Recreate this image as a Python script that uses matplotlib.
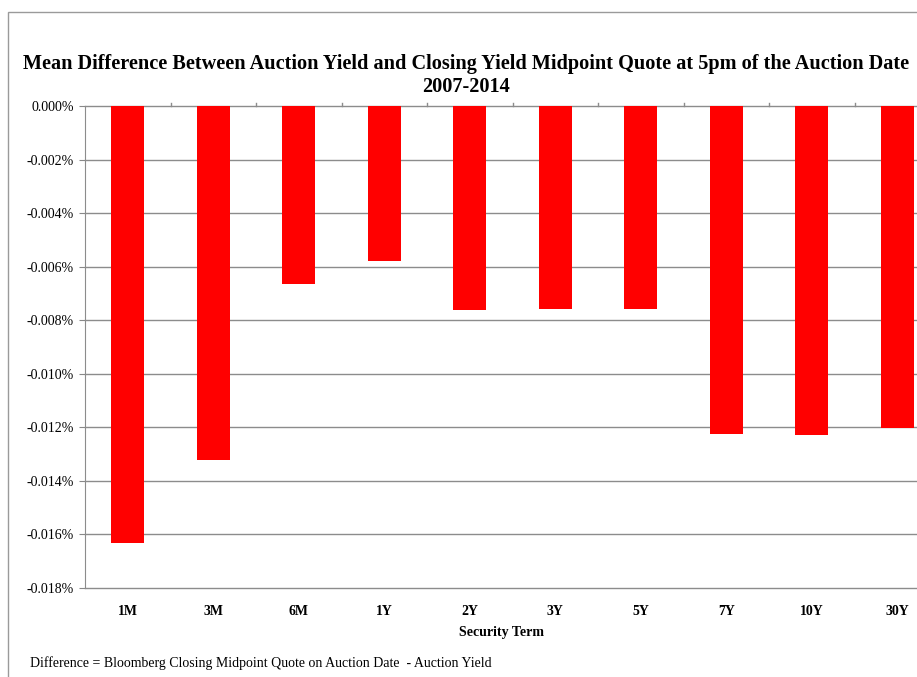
import matplotlib.pyplot as plt
from matplotlib.patches import Rectangle
from matplotlib.ticker import FuncFormatter
import numpy as np

terms = ["1M", "3M", "6M", "1Y", "2Y", "3Y", "5Y", "7Y", "10Y", "30Y"]
mean_diff = [-0.01633, -0.01322, -0.00665, -0.00578, -0.00762,
             -0.00758, -0.00758, -0.01225, -0.01230, -0.01202]

plt.rcParams['font.family'] = ['Liberation Serif', 'DejaVu Serif']

fig = plt.figure(figsize=(9.17, 6.77), dpi=100)
ax = fig.add_axes([0.0927, 0.1315, 0.9073, 0.7119])

x = np.arange(len(terms))
ax.bar(x, mean_diff, width=0.39, color="#ff0000", zorder=3)

ax.set_ylim(-0.018, 0)
ax.set_yticks(np.arange(-0.018, 0.0001, 0.002))
ax.yaxis.set_major_formatter(FuncFormatter(lambda v, p: f"{abs(v):.3f}%" if abs(v) < 1e-9 else f"{v:.3f}%"))
ax.set_xlim(-0.5, 9.23)
ax.set_xticks(x)
ax.set_xticklabels(terms, fontweight="bold", fontsize=10)
ax.tick_params(axis="x", length=0, pad=12)
ax.tick_params(axis="y", length=4, color="#888888", labelsize=10, pad=4)
for yv in np.arange(-0.018, 0.0001, 0.002):
    ax.axhline(yv, color="#8c8c8c", linewidth=1, zorder=0, clip_on=False)

# category separator ticks on the zero line
for b in np.arange(0.5, 9.5, 1):
    ax.plot([b, b], [0, 0.00012], color="#8c8c8c", linewidth=1, clip_on=False)

for s in ["top", "right", "bottom"]:
    ax.spines[s].set_visible(False)
ax.spines["left"].set_color("#8c8c8c")

ax.set_xlabel("Security Term", fontweight="bold", fontsize=10, labelpad=6)

fig.text(0.508, 0.906, "Mean Difference Between Auction Yield and Closing Yield Midpoint Quote at 5pm of the Auction Date",
         ha="center", va="center", fontsize=14.6, fontweight="bold")
fig.text(0.508, 0.872, "2007-2014", ha="center", va="center", fontsize=14.6, fontweight="bold")
fig.text(0.033, 0.02, "Difference = Bloomberg Closing Midpoint Quote on Auction Date  - Auction Yield",
         ha="left", va="center", fontsize=10)

# outer frame
fig.patches.append(Rectangle((0.009, -0.1), 1.2, 1.082, transform=fig.transFigure,
                             fill=False, edgecolor="#9a9a9a", linewidth=1))

fig.savefig("out.png", dpi=100)
